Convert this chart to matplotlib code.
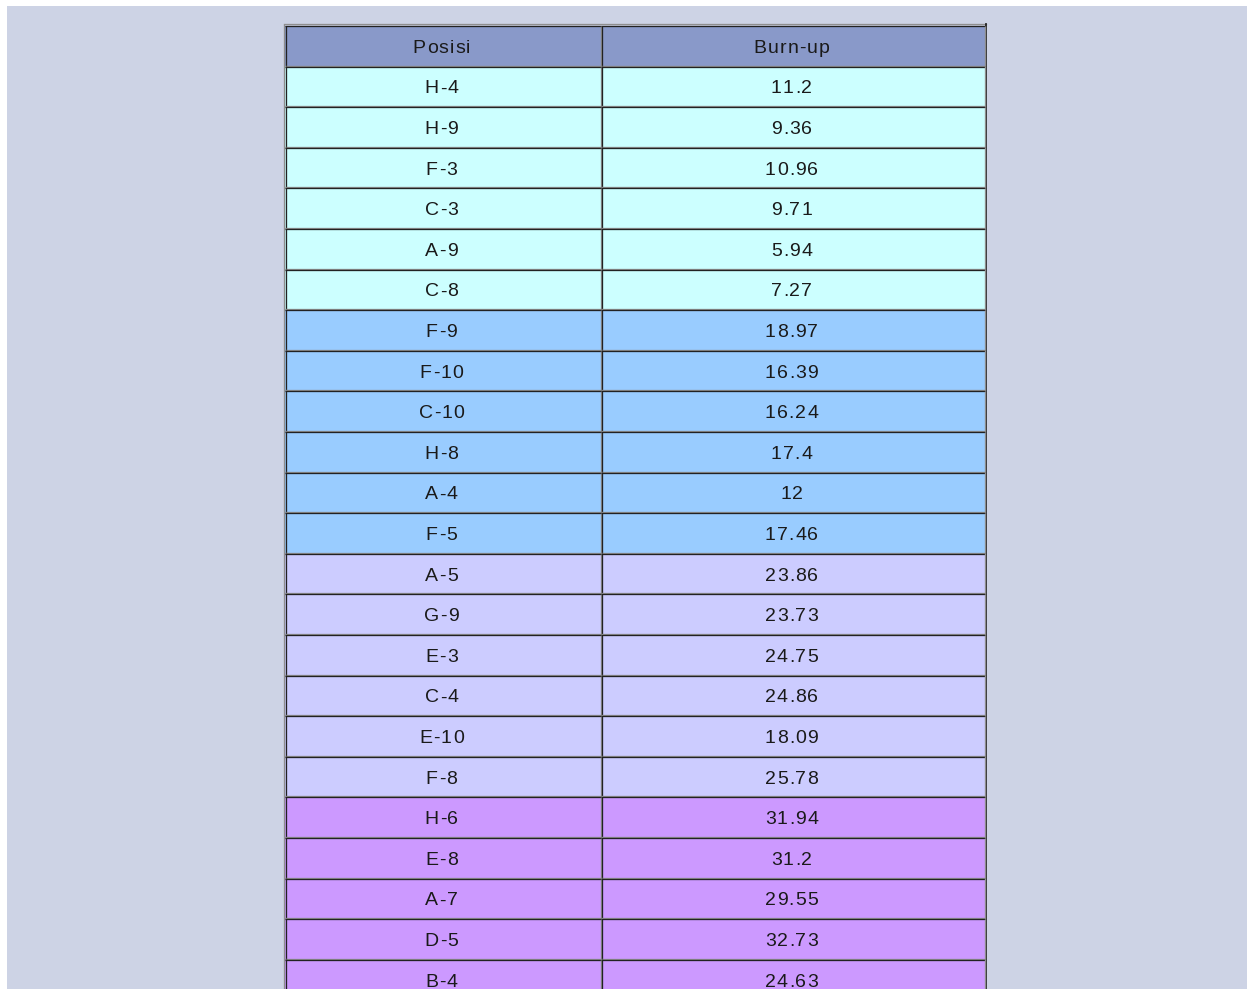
import matplotlib.pyplot as plt
from matplotlib.patches import Rectangle
from matplotlib.font_manager import FontProperties

# table data
posisi = ['H-4', 'H-9', 'F-3', 'C-3', 'A-9', 'C-8',
          'F-9', 'F-10', 'C-10', 'H-8', 'A-4', 'F-5',
          'A-5', 'G-9', 'E-3', 'C-4', 'E-10', 'F-8',
          'H-6', 'E-8', 'A-7', 'D-5', 'B-4']
burnup = [11.2, 9.36, 10.96, 9.71, 5.94, 7.27,
          18.97, 16.39, 16.24, 17.4, 12, 17.46,
          23.86, 23.73, 24.75, 24.86, 18.09, 25.78,
          31.94, 31.2, 29.55, 32.73, 24.63]
group = [0] * 6 + [1] * 6 + [2] * 6 + [3] * 5
headers = ['Posisi', 'Burn-up']

group_colors = ['#ccffff', '#99ccff', '#ccccff', '#cc99ff']
header_color = '#8999c9'
bg_color = '#cdd3e5'
dark = '#222222'
light = '#8e8e8e'

W, H = 1247, 989
fig = plt.figure(figsize=(W / 100, H / 100), dpi=100)
fig.patch.set_facecolor('white')
ax = fig.add_axes([0, 0, 1, 1])
ax.set_xlim(0, W)
ax.set_ylim(H, 0)
ax.axis('off')

ax.add_patch(Rectangle((7, 6), W - 7, H - 6, facecolor=bg_color, edgecolor='none'))

col_x = [285, 601, 985]
top = 25.5
row_h = 40.6
px = 0.72  # one pixel in points

prop = FontProperties(family='Liberation Sans', size=14)
renderer = fig.canvas.get_renderer()
spacing = 1.1  # letter spacing in pixels


def spaced_text(xc, yc, s):
    widths = [renderer.get_text_width_height_descent(ch, prop, ismath=False)[0] for ch in s]
    total = sum(widths) + spacing * (len(s) - 1)
    x = xc - total / 2 - 1.5
    for ch, w in zip(s, widths):
        ax.text(x, yc, ch, ha='left', va='center_baseline', fontproperties=prop, color='#1a1a1a')
        x += w + spacing


def cell(x0, x1, y0, y1, color, text):
    ax.add_patch(Rectangle((x0, y0), x1 - x0, y1 - y0, facecolor=color, edgecolor='none'))
    # inset border: dark top/left, light bottom/right
    ax.plot([x0, x1], [y0 + 0.5, y0 + 0.5], color=dark, lw=1.3 * px, solid_capstyle='butt')
    ax.plot([x0 + 0.5, x0 + 0.5], [y0, y1], color=dark, lw=1.3 * px, solid_capstyle='butt')
    ax.plot([x0, x1], [y1 - 0.5, y1 - 0.5], color=light, lw=1.3 * px, solid_capstyle='butt')
    ax.plot([x1 - 0.5, x1 - 0.5], [y0, y1], color=light, lw=1.3 * px, solid_capstyle='butt')
    spaced_text((x0 + x1) / 2, (y0 + y1) / 2 + 0.5, text)


n_rows = len(posisi)
bottom = top + row_h * (n_rows + 1)

# outer table border: light top/left, dark bottom/right
ax.plot([col_x[0] - 1.5, col_x[0] - 1.5], [top - 1, bottom], color=light, lw=1.3 * px)
ax.plot([col_x[0] - 1, col_x[2] + 1], [top - 1.5, top - 1.5], color=light, lw=1.3 * px)
ax.plot([col_x[2] + 0.5, col_x[2] + 0.5], [top - 2, bottom], color=dark, lw=1.8 * px)

for j, h in enumerate(headers):
    cell(col_x[j], col_x[j + 1], top, top + row_h, header_color, h)

for i in range(n_rows):
    y0 = top + row_h * (i + 1)
    y1 = y0 + row_h
    c = group_colors[group[i]]
    cell(col_x[0], col_x[1], y0, y1, c, posisi[i])
    cell(col_x[1], col_x[2], y0, y1, c, '{:g}'.format(burnup[i]))

fig.savefig('out.png', dpi=100)
